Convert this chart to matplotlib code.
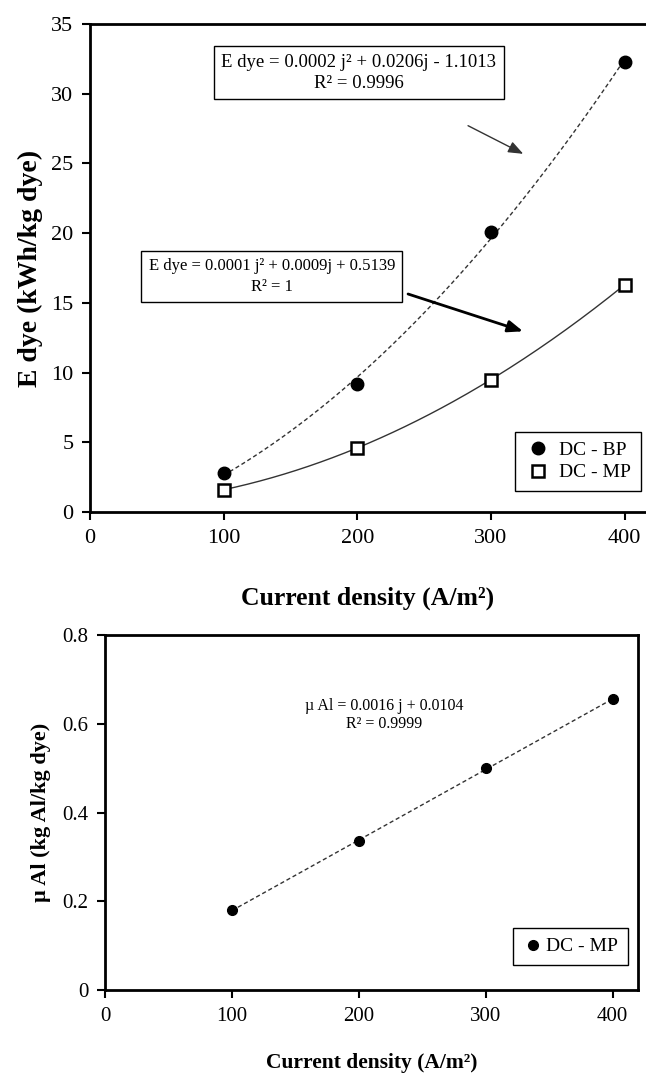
import numpy as np
import matplotlib
matplotlib.use("Agg")
import matplotlib.pyplot as plt

plt.rcParams['font.family'] = ['Liberation Serif', 'DejaVu Serif']

# ---- data ----
current_density = [100, 200, 300, 400]
e_dye_bp = [2.8, 9.2, 20.1, 32.3]
e_dye_mp = [1.6, 4.6, 9.5, 16.3]
mu_al_mp = [0.18, 0.335, 0.50, 0.655]

top_yticks = [0, 5, 10, 15, 20, 25, 30, 35]
top_xticks = [0, 100, 200, 300, 400]
bot_yticks = [0, 0.2, 0.4, 0.6, 0.8]
bot_xticks = [0, 100, 200, 300, 400]

eq_bp = "E dye = 0.0002 j² + 0.0206j - 1.1013\nR² = 0.9996"
eq_mp = "E dye = 0.0001 j² + 0.0009j + 0.5139\nR² = 1"
eq_al = "µ Al = 0.0016 j + 0.0104\nR² = 0.9999"

fig = plt.figure(figsize=(6.46, 10.78), dpi=100)

# ---------- top panel ----------
ax1 = fig.add_axes([0.1393, 0.525, 0.8607, 0.4527])
x = np.array(current_density, dtype=float)
xs = np.linspace(100, 400, 200)
c_bp = np.polyfit(x, e_dye_bp, 2)
c_mp = np.polyfit(x, e_dye_mp, 2)
ax1.plot(xs, np.polyval(c_bp, xs), ls=(0, (3, 2)), color='#333333', lw=1.0, zorder=2)
ax1.plot(xs, np.polyval(c_mp, xs), ls='-', color='#333333', lw=1.0, zorder=2)
ax1.plot(x, e_dye_bp, 'o', color='black', ms=9, label='DC - BP', zorder=3)
ax1.plot(x, e_dye_mp, 's', mfc='white', mec='black', mew=1.8, ms=8.5, label='DC - MP', zorder=3)
ax1.set_xlim(0, 416)
ax1.set_ylim(0, 35)
ax1.set_xticks(top_xticks)
ax1.set_yticks(top_yticks)
ax1.tick_params(direction='out', length=6, width=1.5, labelsize=16, pad=6)
for s in ['left', 'bottom', 'top']:
    ax1.spines[s].set_linewidth(2)
ax1.spines['right'].set_visible(False)
ax1.set_xlabel('Current density (A/m²)', fontsize=18.5, fontweight='bold', labelpad=28)
ax1.set_ylabel('E dye (kWh/kg dye)', fontsize=20, fontweight='bold', labelpad=6)

leg1 = ax1.legend(loc='lower right', bbox_to_anchor=(0.991, 0.043), fontsize=14,
                  frameon=True, fancybox=False, edgecolor='black', framealpha=1,
                  borderaxespad=0, borderpad=0.5, handletextpad=0.4,
                  labelspacing=0.25, handlelength=1.4)
leg1.get_frame().set_linewidth(1.0)

box1 = dict(boxstyle='square,pad=0.4', fc='white', ec='black', lw=1.0)
box2 = dict(boxstyle='square,pad=0.45', fc='white', ec='black', lw=1.0)
ax1.text(201, 31.5, eq_bp, ha='center', va='center', fontsize=13.5, bbox=box1,
         linespacing=1.3, zorder=5)
ax1.text(136, 16.9, eq_mp, ha='center', va='center', fontsize=12, bbox=box2,
         linespacing=1.4, zorder=5)
ax1.annotate('', xy=(326, 25.6), xytext=(281, 27.8),
             arrowprops=dict(arrowstyle='-|>,head_length=0.9,head_width=0.35',
                             color='#333333', lw=1.0))
ax1.annotate('', xy=(326, 12.9), xytext=(236, 15.7),
             arrowprops=dict(arrowstyle='-|>,head_length=0.9,head_width=0.35',
                             color='black', lw=2.0))

# ---------- bottom panel ----------
ax2 = fig.add_axes([0.1625, 0.0816, 0.8251, 0.3293])
xl = np.linspace(100, 400, 50)
c_al = np.polyfit(x, mu_al_mp, 1)
ax2.plot(xl, np.polyval(c_al, xl), ls=(0, (3, 2)), color='#333333', lw=1.0, zorder=2)
ax2.plot(x, mu_al_mp, 'o', color='black', ms=7, label='DC - MP', zorder=3)
ax2.set_xlim(0, 420)
ax2.set_ylim(0, 0.8)
ax2.set_xticks(bot_xticks)
ax2.set_yticks(bot_yticks)
ax2.set_yticklabels(['0', '0.2', '0.4', '0.6', '0.8'])
ax2.tick_params(direction='out', length=6, width=1.5, labelsize=15, pad=6)
for s in ['left', 'bottom', 'top', 'right']:
    ax2.spines[s].set_linewidth(2)
ax2.set_xlabel('Current density (A/m²)', fontsize=15.5, fontweight='bold', labelpad=20)
ax2.set_ylabel('µ Al (kg Al/kg dye)', fontsize=16, fontweight='bold', labelpad=8)
ax2.text(220, 0.62, eq_al, ha='center', va='center', fontsize=11.5, linespacing=1.2)

leg2 = ax2.legend(loc='lower right', bbox_to_anchor=(0.981, 0.07), fontsize=14,
                  frameon=True, fancybox=False, edgecolor='black', framealpha=1,
                  borderaxespad=0, borderpad=0.5, handletextpad=0.2, handlelength=1.0)
leg2.get_frame().set_linewidth(1.0)

fig.savefig('out.png', dpi=100)
